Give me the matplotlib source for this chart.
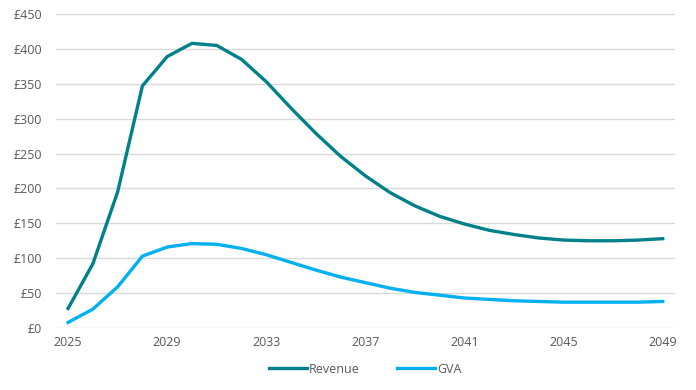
import matplotlib
matplotlib.use("Agg")
import matplotlib.pyplot as plt
from matplotlib.ticker import FuncFormatter

years = list(range(2025, 2050))
revenue = [28, 92, 195, 347, 389, 408, 405, 385, 353, 315, 279, 246, 218,
           194, 175, 160, 149, 140, 134, 129, 126, 125, 125, 126, 128]
gva = [8, 27, 59, 103, 116, 121, 120, 114, 105, 94, 83, 73, 65,
       57, 51, 47, 43, 41, 39, 38, 37, 37, 37, 37, 38]
xticks = [2025, 2029, 2033, 2037, 2041, 2045, 2049]

plt.rcParams['font.family'] = ['Open Sans', 'DejaVu Sans']

fig = plt.figure(figsize=(6.96, 3.9), dpi=100)
ax = fig.add_axes([0.080, 0.159, 0.890, 0.805])

ax.plot(years, revenue, color="#00818A", linewidth=2.4, label="Revenue")
ax.plot(years, gva, color="#00B0F0", linewidth=2.4, label="GVA")

ax.set_ylim(0, 450)
ax.set_yticks(range(0, 451, 50))
ax.yaxis.set_major_formatter(FuncFormatter(lambda v, p: "£%d" % v))
ax.set_xlim(2024.5, 2049.5)
ax.set_xticks(xticks)

ax.grid(axis="y", color="#D9D9D9", linewidth=1)
ax.set_axisbelow(True)
for s in ax.spines.values():
    s.set_visible(False)
ax.tick_params(length=0, labelsize=9, colors="#595959", pad=6)
ax.tick_params(axis="y", pad=10)

ax.legend(loc="upper center", bbox_to_anchor=(0.5, -0.075), ncol=2, frameon=False,
          fontsize=9, labelcolor="#595959", handlelength=3, handletextpad=0.2,
          columnspacing=3)

fig.savefig("out.png", dpi=100)
